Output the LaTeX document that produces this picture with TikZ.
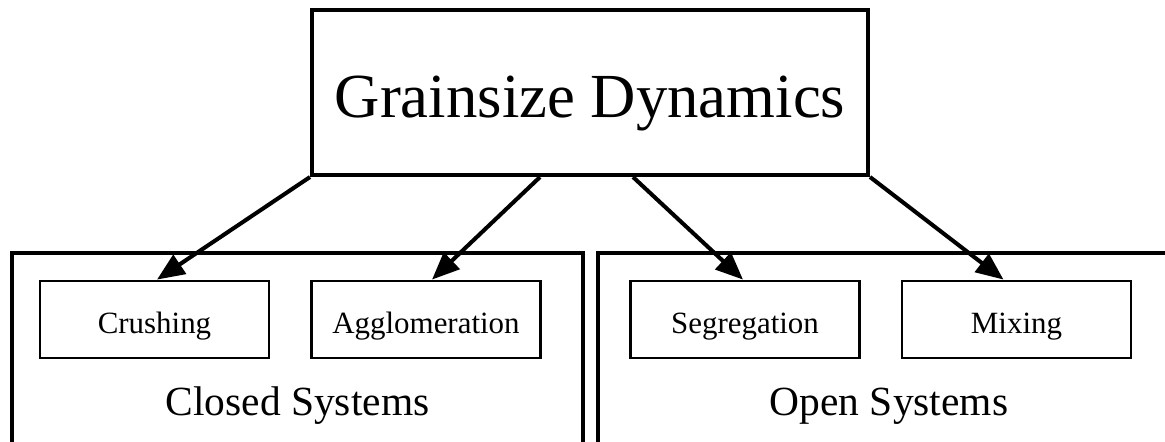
\documentclass[tikz,border=0pt]{standalone}
\usepackage{fontspec}
\setmainfont{Liberation Serif}
\usetikzlibrary{arrows.meta,positioning}
\tikzset{mainbox/.style={draw,line width=2.3pt,minimum width=11.12cm,minimum height=3.3cm,inner sep=0pt,
  text height=1.02cm,text depth=0pt,font=\fontsize{35.7}{40}\selectfont}}
\tikzset{procbox/.style={draw,line width=1.6pt,minimum width=4.58cm,minimum height=1.54cm,inner sep=0pt,
  text height=0.54cm,text depth=0pt,font=\fontsize{17.6}{20}\selectfont}}
\tikzset{syslabel/.style={anchor=base,inner sep=0pt,font=\fontsize{23.6}{26}\selectfont}}
\tikzset{sysbox/.style={line width=2.4pt}}
\tikzset{flow/.style={line width=2.3pt,-{Triangle[length=0.55cm,width=0.45cm]}}}

\begin{document}
\begin{tikzpicture}
	\useasboundingbox (0,0) rectangle (23.3,-8.84);
	\begin{scope}
	\clip (0,0) rectangle (23.3,-8.84);
	% the two systems, open at the bottom
	\draw [sysbox] (0.24,-5.06) rectangle (11.66,-9.2);
	\draw [sysbox] (11.96,-5.06) rectangle (23.6,-9.2);
	\end{scope}

	\node [mainbox] (gsd) at (11.8,-1.85) {Grainsize Dynamics};

	\node [procbox] (crush) at (3.09,-6.39) {Crushing};
	\node [procbox] (agglo) at (8.52,-6.39) {Agglomeration};
	\node [procbox] (segr) at (14.9,-6.39) {Segregation};
	\node [procbox] (mix) at (20.33,-6.39) {Mixing};

	\node [syslabel] (closed) at (5.95,-8.3) {Closed Systems};
	\node [syslabel] (open) at (17.78,-8.3) {Open Systems};

	\draw [flow] (gsd.south west) -- ([xshift=0.05cm]crush.north);
	\draw [flow] ([xshift=-1cm]gsd.south) -- ([xshift=0.12cm]agglo.north);
	\draw [flow] ([xshift=0.86cm]gsd.south) -- ([xshift=-0.04cm]segr.north);
	\draw [flow] (gsd.south east) -- ([xshift=-0.26cm]mix.north);
\end{tikzpicture}
\end{document}
